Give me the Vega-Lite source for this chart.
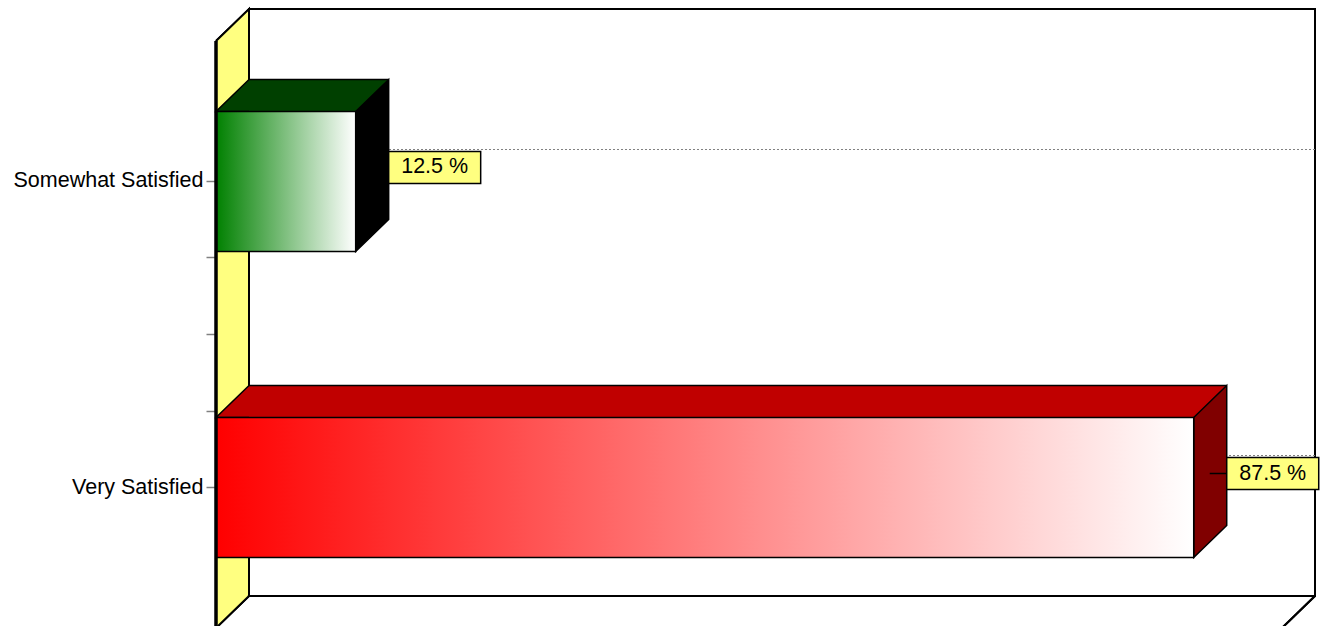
{
  "$schema": "https://vega.github.io/schema/vega-lite/v6.json",
  "width": 1066,
  "height": 587,
  "autosize": {"type": "none"},
  "padding": {"left": 216, "top": 41, "right": 39, "bottom": 0},
  "background": "white",
  "config": {"view": {"stroke": null}},
  "data": {"values": [
    {"answer": "Somewhat Satisfied", "percent": 12.5, "label": "12.5 %"},
    {"answer": "Very Satisfied", "percent": 87.5, "label": "87.5 %"}
  ]},
  "encoding": {
    "x": {"field": "percent", "type": "quantitative", "scale": {"domain": [0, 95.4], "nice": false, "zero": true}, "axis": null},
    "y": {
      "field": "answer", "type": "nominal",
      "scale": {"domain": ["t0", "Somewhat Satisfied", "t1", "t2", "t3", "Very Satisfied", "t4"], "paddingInner": 0, "paddingOuter": 0.3366},
      "axis": {
        "title": null, "domain": false, "grid": false,
        "values": ["Somewhat Satisfied", "t1", "t2", "t3", "Very Satisfied"],
        "labelExpr": "indexof(['t1','t2','t3'], datum.value) >= 0 ? '' : datum.value",
        "labelFont": "Liberation Sans", "labelFontSize": 21.5, "labelColor": "#000000", "labelLimit": 0,
        "labelPadding": 3, "tickSize": 10, "tickColor": "#808080", "tickWidth": 1.5
      }
    }
  },
  "layer": [
    {
      "mark": {"type": "rect", "fill": "#FFFF80", "x2Offset": 33, "y2Offset": -32},
      "encoding": {"x": {"datum": 0, "type": "quantitative"}, "x2": {"datum": 0}, "y": {"value": 0}, "y2": {"value": "height"}}
    },
    {
      "mark": {"type": "point", "shape": "M0,0L33,-32L33,0", "size": 4, "filled": true, "opacity": 1, "fill": "#FFFF80", "stroke": "#000000", "strokeWidth": 2},
      "encoding": {"x": {"datum": 0, "type": "quantitative"}, "y": {"value": 0}}
    },
    {
      "mark": {"type": "point", "shape": "M33,-32L0,0L0,-32", "size": 4, "filled": true, "opacity": 1, "fill": "#FFFF80", "stroke": "#000000", "strokeWidth": 2},
      "encoding": {"x": {"datum": 0, "type": "quantitative"}, "y": {"value": "height"}}
    },
    {
      "mark": {"type": "rect", "fill": "#FFFFFF", "stroke": "#000000", "strokeWidth": 2, "xOffset": 33, "x2Offset": 33, "yOffset": -32, "y2Offset": -32},
      "encoding": {"x": {"datum": 0, "type": "quantitative"}, "x2": {"datum": 95.4}, "y": {"value": 0}, "y2": {"value": "height"}}
    },
    {
      "mark": {"type": "point", "shape": "M33,-32L0,0", "size": 4, "filled": false, "opacity": 1, "stroke": "#000000", "strokeWidth": 2},
      "encoding": {"x": {"datum": 95.4, "type": "quantitative"}, "y": {"value": "height"}}
    },
    {
      "mark": {"type": "rule", "stroke": "#808080", "strokeWidth": 1, "strokeDash": [2, 2], "xOffset": 33, "x2Offset": 33, "yOffset": -32},
      "encoding": {"x": {"datum": 0, "type": "quantitative"}, "x2": {"datum": 95.4}}
    },
    {
      "mark": {"type": "bar", "height": 32, "yOffset": -86, "xOffset": 33, "x2Offset": 33},
      "encoding": {
        "x": {"datum": 0, "type": "quantitative"}, "x2": {"field": "percent"},
        "fill": {"condition": {"test": "datum.answer === 'Very Satisfied'", "value": "#C00000"}, "value": "#004000"}
      }
    },
    {
      "mark": {"type": "point", "shape": "M33,-70L0,-70L33,-102", "size": 4, "filled": true, "opacity": 1, "stroke": "#000000", "strokeWidth": 1.5},
      "encoding": {
        "x": {"datum": 0, "type": "quantitative"},
        "fill": {"condition": {"test": "datum.answer === 'Very Satisfied'", "value": "#C00000"}, "value": "#004000"}
      }
    },
    {
      "mark": {"type": "rule", "stroke": "#000000", "strokeWidth": 1.5, "xOffset": 33, "x2Offset": 33, "yOffset": -102},
      "encoding": {"x": {"datum": 0, "type": "quantitative"}, "x2": {"field": "percent"}}
    },
    {
      "mark": {"type": "point", "shape": "M0,-70L33,-102L33,38L0,70Z", "size": 4, "filled": true, "opacity": 1, "stroke": "#000000", "strokeWidth": 1.5},
      "encoding": {
        "x": {"field": "percent", "type": "quantitative"},
        "fill": {"condition": {"test": "datum.answer === 'Very Satisfied'", "value": "#800000"}, "value": "#000000"}
      }
    },
    {
      "mark": {"type": "bar", "height": 140, "stroke": "#000000", "strokeWidth": 1.5},
      "encoding": {
        "x": {"datum": 0, "type": "quantitative"}, "x2": {"field": "percent"},
        "fill": {
          "condition": {"test": "datum.answer === 'Very Satisfied'", "value": {"gradient": "linear", "stops": [{"offset": 0, "color": "#FF0000"}, {"offset": 1, "color": "#FFFFFF"}]}},
          "value": {"gradient": "linear", "stops": [{"offset": 0, "color": "#008000"}, {"offset": 1, "color": "#FFFFFF"}]}
        }
      }
    },
    {
      "mark": {"type": "rule", "stroke": "#000000", "strokeWidth": 3},
      "encoding": {"x": {"datum": 0, "type": "quantitative"}, "y": {"value": 0}, "y2": {"value": "height"}}
    },
    {
      "mark": {"type": "rule", "stroke": "#000000", "strokeWidth": 1.5, "xOffset": 16, "x2Offset": 33, "yOffset": -14},
      "encoding": {"x": {"field": "percent", "type": "quantitative"}, "x2": {"field": "percent"}}
    },
    {
      "mark": {"type": "bar", "height": 32, "yOffset": -14, "xOffset": 33, "x2Offset": 125, "fill": "#FFFF80", "stroke": "#000000", "strokeWidth": 1.5},
      "encoding": {"x": {"field": "percent", "type": "quantitative"}, "x2": {"field": "percent"}}
    },
    {
      "mark": {"type": "text", "dx": 79, "dy": -14, "align": "center", "baseline": "middle", "font": "Liberation Sans", "fontSize": 21.5, "fill": "#000000"},
      "encoding": {"x": {"field": "percent", "type": "quantitative"}, "text": {"field": "label"}}
    }
  ]
}
